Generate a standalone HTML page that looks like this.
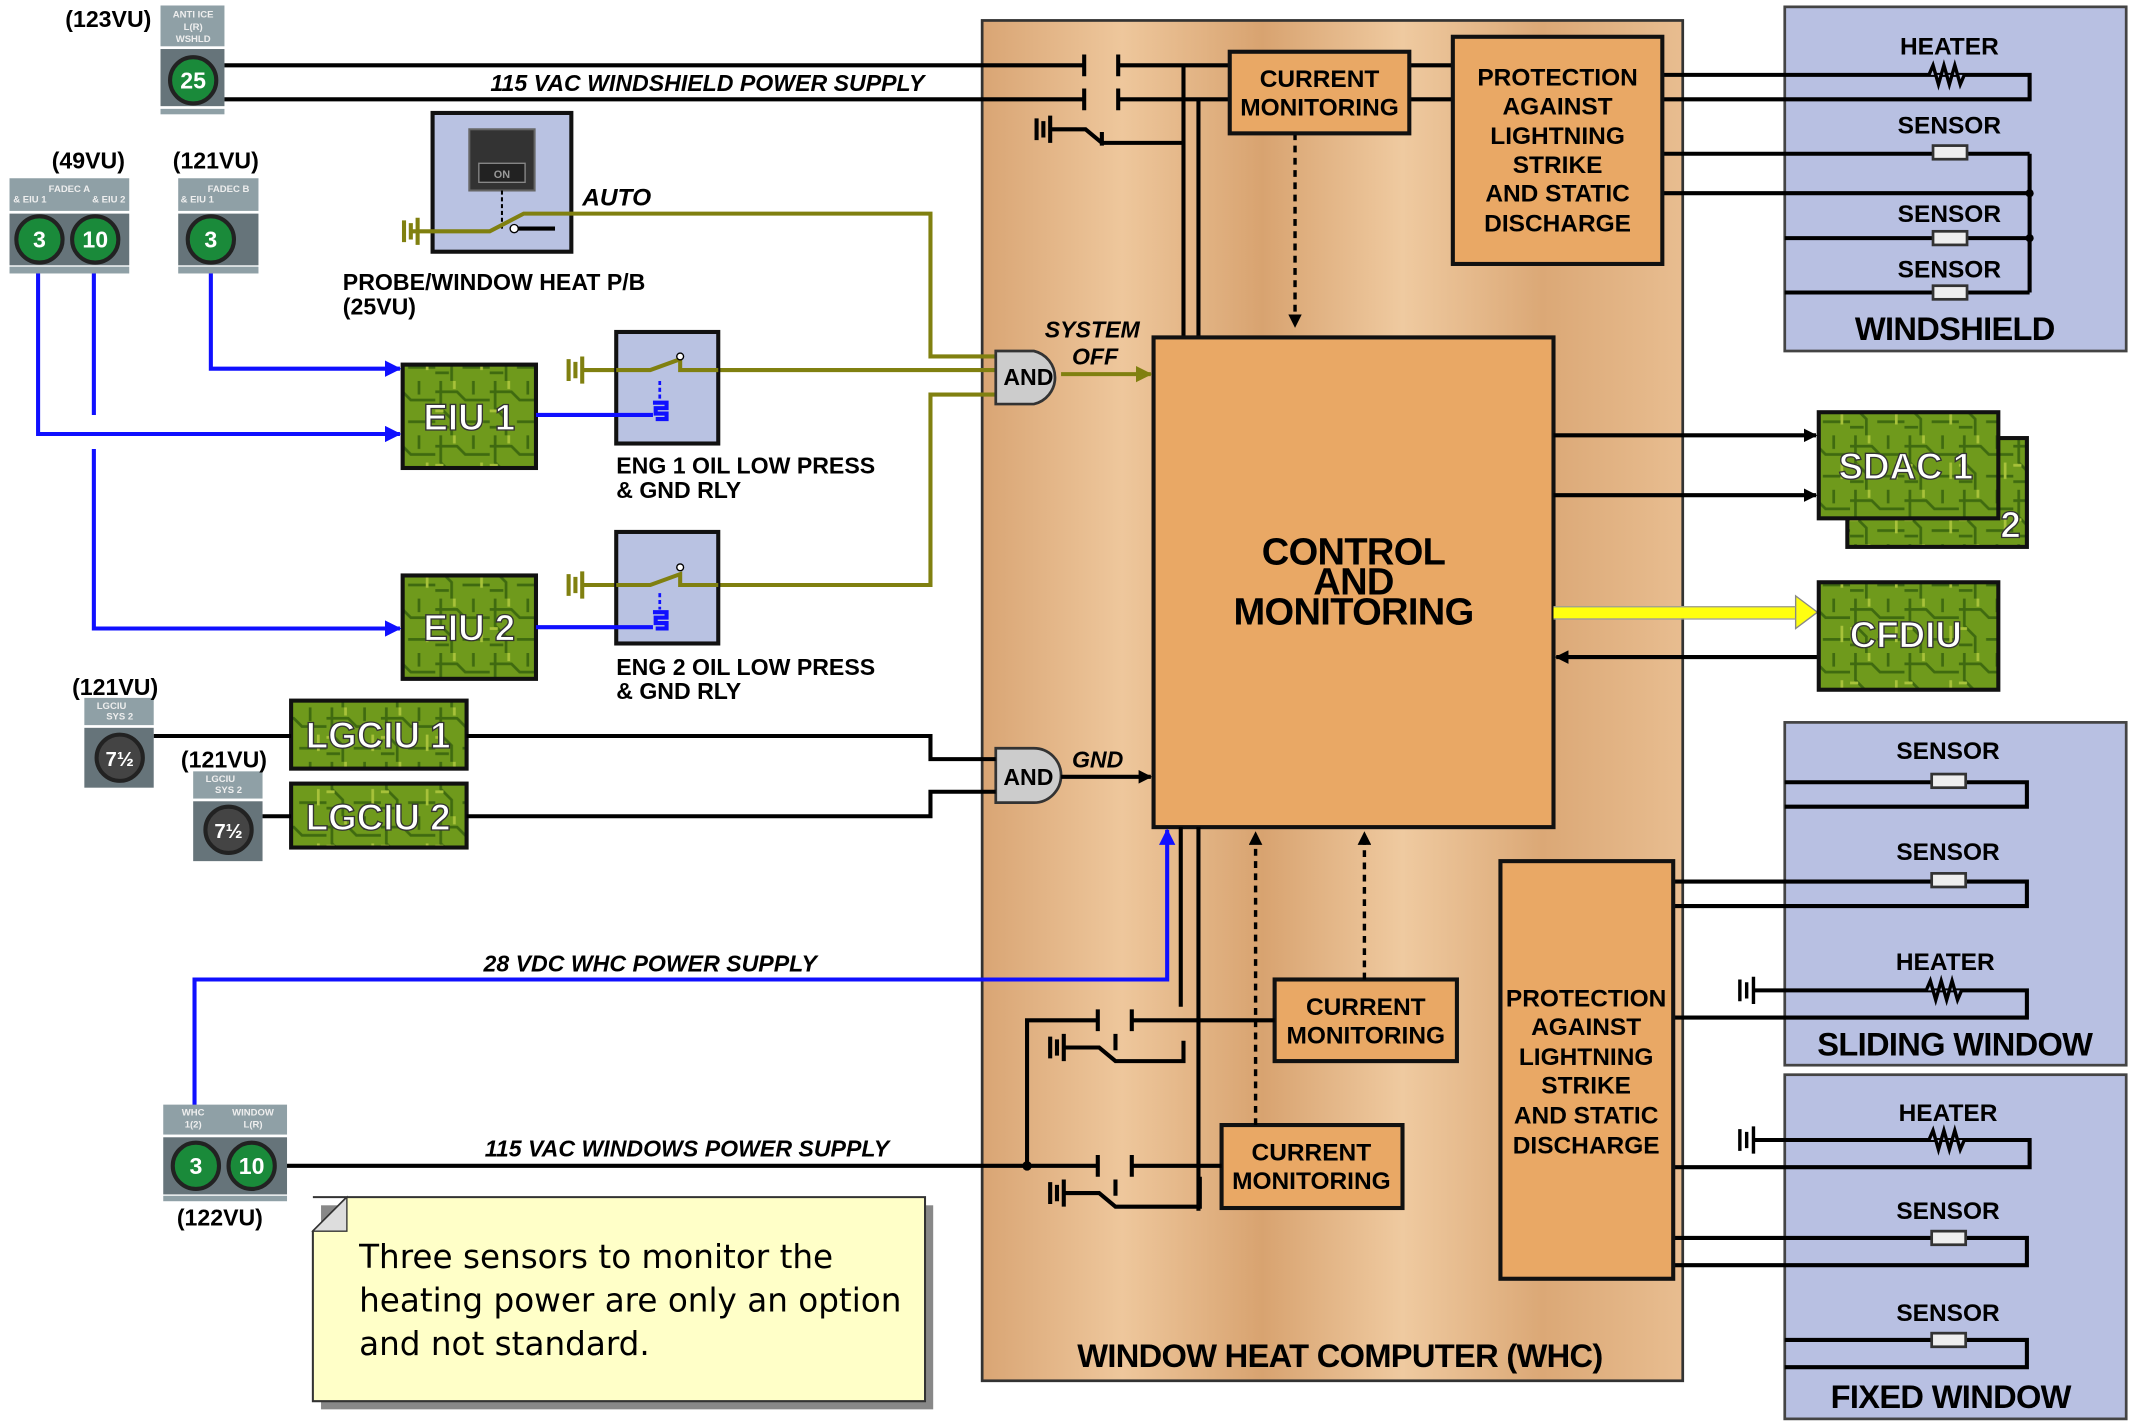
<!DOCTYPE html>
<html><head><meta charset="utf-8"><style>
html,body{margin:0;padding:0;background:#fff}
svg{display:block}
text{font-family:"Liberation Sans",sans-serif;font-weight:bold}
</style></head><body>
<svg width="2133" height="1423" viewBox="0 0 1568 1046" xmlns="http://www.w3.org/2000/svg">
<defs>
<pattern id="pcb" width="40" height="40" patternUnits="userSpaceOnUse">
<rect width="40" height="40" fill="#6f9a1c"/>
<path d="M0 8h16l6 6h18M4 0v20l8 8v12M28 0v10M20 30h20M0 34h10" stroke="#3f6a10" stroke-width="2" fill="none"/>
<path d="M14 0v6M34 20v12M0 22h6" stroke="#a8c23a" stroke-width="2" fill="none"/>
</pattern>
<linearGradient id="wood" x1="0" x2="1" y1="0" y2="0">
<stop offset="0" stop-color="#d9a574"/><stop offset="0.2" stop-color="#eec79c"/><stop offset="0.4" stop-color="#d8a370"/><stop offset="0.6" stop-color="#efcaa0"/><stop offset="0.8" stop-color="#dba876"/><stop offset="1" stop-color="#e8bd90"/>
</linearGradient>
<marker id="ab" markerWidth="10" markerHeight="10" refX="9" refY="5" orient="auto" markerUnits="userSpaceOnUse"><path d="M0 0L10 5L0 10z" fill="#000"/></marker>
<marker id="abl" markerWidth="12" markerHeight="12" refX="11" refY="6" orient="auto" markerUnits="userSpaceOnUse"><path d="M0 0L12 6L0 12z" fill="#1010ff"/></marker>
<marker id="aol" markerWidth="12" markerHeight="12" refX="11" refY="6" orient="auto" markerUnits="userSpaceOnUse"><path d="M0 0L12 6L0 12z" fill="#808010"/></marker>
</defs>

<rect x="722" y="15" width="515" height="1000" fill="url(#wood)" stroke="#333" stroke-width="2"/>
<text x="985" y="1005" font-size="24" text-anchor="middle" letter-spacing="-0.5">WINDOW HEAT COMPUTER (WHC)</text>

<g fill="#b8c0e2" stroke="#444" stroke-width="2">
<rect x="1312" y="5" width="251" height="253"/>
<rect x="1312" y="531" width="251" height="252"/>
<rect x="1312" y="790" width="251" height="253"/>
</g>
<g font-size="24" text-anchor="middle" letter-spacing="-0.5">
<text x="1437" y="250">WINDSHIELD</text>
<text x="1437" y="776">SLIDING WINDOW</text>
<text x="1434" y="1035">FIXED WINDOW</text>
</g>
<g font-size="18" text-anchor="middle">
<text x="1433" y="40">HEATER</text><text x="1433" y="98">SENSOR</text><text x="1433" y="163">SENSOR</text><text x="1433" y="204">SENSOR</text>
<text x="1432" y="558">SENSOR</text><text x="1432" y="632">SENSOR</text><text x="1430" y="713">HEATER</text>
<text x="1432" y="824">HEATER</text><text x="1432" y="896">SENSOR</text><text x="1432" y="971">SENSOR</text>
</g>

<g stroke="#000" stroke-width="3" fill="none">
<path d="M1222 55H1492V73H1222"/>
<path d="M1222 113H1492M1222 142H1492M1312 175H1492M1312 215H1492M1492 113V215"/>
<path d="M1312 575H1490V593H1312M1230 648H1490V666H1230"/>
<path d="M1290 728H1490V748H1230"/>
<path d="M1290 838H1492V858H1230M1230 910H1490V930H1230M1312 985H1490V1005H1312"/>
</g>
<g fill="#eee" stroke="#333" stroke-width="2">
<rect x="1421" y="107" width="25" height="10"/><rect x="1421" y="170" width="25" height="10"/><rect x="1421" y="210" width="25" height="10"/>
<rect x="1420" y="569" width="25" height="10"/><rect x="1420" y="642" width="25" height="10"/>
<rect x="1420" y="905" width="25" height="10"/><rect x="1420" y="980" width="25" height="10"/>
</g>
<g stroke="#000" stroke-width="2.5" fill="none">
<path d="M1418 55l3-7 4 14 4-14 4 14 4-14 4 14 3-7" fill="#b8c0e2"/>
<path d="M1416 728l3-7 4 14 4-14 4 14 4-14 4 14 3-7" fill="#b8c0e2"/>
<path d="M1418 838l3-7 4 14 4-14 4 14 4-14 4 14 3-7" fill="#b8c0e2"/>
<path d="M1279 720v16M1284 722v12M1289 718v20"/>
<path d="M1279 830v16M1284 832v12M1289 828v20"/>
</g>
<circle cx="1492" cy="142" r="3"/><circle cx="1492" cy="175" r="3"/>

<g stroke="#000" stroke-width="3" fill="none">
<path d="M165 48H797M822 48H904M165 73H797M822 73H904M1036 48H1068M1036 73H1068"/>
<path d="M797 40v16M822 40v16M797 65v16M822 65v16"/>
<path d="M870 48V248M881 73V248"/>
<path d="M773 95h25l12 10h60M810 97v10"/>
<path d="M762 87v16M767 89v12M772 85v20"/>
</g>
<path d="M952 98V240" stroke="#000" stroke-width="2.5" stroke-dasharray="5,4" marker-end="url(#ab)"/>
<text x="520" y="67" font-size="17" font-style="italic" text-anchor="middle">115 VAC  WINDSHIELD  POWER SUPPLY</text>

<g fill="#e9a865" stroke="#111" stroke-width="3">
<rect x="848" y="248" width="294" height="360"/>
<rect x="904" y="38" width="132" height="60"/>
<rect x="1068" y="27" width="154" height="167"/>
<rect x="937" y="720" width="134" height="60"/>
<rect x="898" y="827" width="133" height="61"/>
<rect x="1103" y="633" width="127" height="307"/>
</g>
<g font-size="28" text-anchor="middle" letter-spacing="-0.5"><text x="995" y="415">CONTROL</text><text x="995" y="437">AND</text><text x="995" y="459">MONITORING</text></g>
<g font-size="18" text-anchor="middle">
<text x="970" y="64">CURRENT</text><text x="970" y="85">MONITORING</text>
<text x="1145" y="63">PROTECTION</text><text x="1145" y="84">AGAINST</text><text x="1145" y="106">LIGHTNING</text><text x="1145" y="127">STRIKE</text><text x="1145" y="148">AND STATIC</text><text x="1145" y="170">DISCHARGE</text>
<text x="1004" y="746">CURRENT</text><text x="1004" y="767">MONITORING</text>
<text x="964" y="853">CURRENT</text><text x="964" y="874">MONITORING</text>
<text x="1166" y="740">PROTECTION</text><text x="1166" y="761">AGAINST</text><text x="1166" y="783">LIGHTNING</text><text x="1166" y="804">STRIKE</text><text x="1166" y="826">AND STATIC</text><text x="1166" y="848">DISCHARGE</text>
</g>

<g stroke="#000" stroke-width="3" fill="none">
<path d="M1142 320H1335" marker-end="url(#ab)"/>
<path d="M1142 364H1335" marker-end="url(#ab)"/>
<path d="M1337 483H1144" marker-end="url(#ab)"/>
</g>
<path d="M1142 450H1322" stroke="#ffff10" stroke-width="9"/>
<path d="M1320 438L1336 450L1320 462z" fill="#ffff10" stroke="#888" stroke-width="1"/>
<path d="M1142 446H1320M1142 455H1320" stroke="#999" stroke-width="1"/>

<g stroke="#111" stroke-width="3" fill="url(#pcb)">
<rect x="1358" y="322" width="132" height="80"/>
<rect x="1337" y="303" width="132" height="78"/>
<rect x="1337" y="428" width="132" height="79"/>
<rect x="296" y="268" width="98" height="76"/>
<rect x="296" y="423" width="98" height="76"/>
<rect x="214" y="515" width="129" height="50"/>
<rect x="214" y="576" width="129" height="47"/>
</g>
<g fill="#fff" stroke="#333" stroke-width="1" font-size="27">
<text x="1401" y="352" text-anchor="middle">SDAC 1</text>
<text x="1478" y="395" text-anchor="middle">2</text>
<text x="1401" y="476" text-anchor="middle">CFDIU</text>
<text x="345" y="316" text-anchor="middle">EIU 1</text>
<text x="345" y="471" text-anchor="middle">EIU 2</text>
<text x="278" y="550" text-anchor="middle">LGCIU 1</text>
<text x="278" y="610" text-anchor="middle">LGCIU 2</text>
</g>

<rect x="318" y="83" width="102" height="102" fill="#b9c2e2" stroke="#111" stroke-width="3"/>
<rect x="345" y="95" width="48" height="45" fill="#333" stroke="#666" stroke-width="1.5"/>
<rect x="352" y="120" width="34" height="14" fill="#222" stroke="#888" stroke-width="1"/>
<text x="369" y="131" font-size="8" fill="#999" font-weight="normal" text-anchor="middle">ON</text>
<path d="M369 140v28" stroke="#000" stroke-width="1.5" stroke-dasharray="3,2"/>
<g stroke="#808010" stroke-width="3" fill="none">
<path d="M302 170H360L385 157H684V262H732"/>
<path d="M297 162v16M302 164v12M307 160v20"/>
<path d="M428 272H478l22-8v8H732"/>
<path d="M418 264v16M423 266v12M428 262v20"/>
<path d="M428 430H478l22-8v8H684V290H732"/>
<path d="M418 422v16M423 424v12M428 420v20"/>
<path d="M780 275H846" marker-end="url(#aol)"/>
</g>
<path d="M380 168h28" stroke="#000" stroke-width="3"/>
<circle cx="378" cy="168" r="3" fill="#fff" stroke="#000"/>
<text x="428" y="151" font-size="18" font-style="italic">AUTO</text>
<text x="252" y="213" font-size="17">PROBE/WINDOW  HEAT P/B</text>
<text x="252" y="231" font-size="17">(25VU)</text>

<g fill="#b9c2e2" stroke="#111" stroke-width="3">
<rect x="453" y="244" width="75" height="82"/>
<rect x="453" y="391" width="75" height="82"/>
</g>
<g stroke="#808010" stroke-width="3" fill="none"><path d="M453 272H478l22-8v8H528"/><path d="M453 430H478l22-8v8H528"/></g>
<circle cx="500" cy="262" r="2.5" fill="#fff" stroke="#000"/><circle cx="500" cy="417" r="2.5" fill="#fff" stroke="#000"/>
<g stroke="#1010ff" stroke-width="3" fill="none">
<path d="M485 280v14M485 436v12" stroke-dasharray="3,2" stroke-width="2"/>
<path d="M480 296h10v4h-8v4h8v4h-8"/><path d="M480 450h10v4h-8v4h8v4h-8"/>
</g>
<g font-size="17"><text x="453" y="348">ENG 1 OIL LOW PRESS</text><text x="453" y="366">&amp; GND RLY</text>
<text x="453" y="496">ENG 2 OIL LOW PRESS</text><text x="453" y="514">&amp; GND RLY</text></g>

<g fill="#ccc" stroke="#333" stroke-width="2">
<path d="M732 258H760A20 20 0 0 1 760 297H732z"/>
<path d="M732 550H760A20 20 0 0 1 760 590H732z"/>
</g>
<text x="756" y="283" font-size="17" font-weight="normal" text-anchor="middle">AND</text>
<text x="756" y="577" font-size="17" font-weight="normal" text-anchor="middle">AND</text>
<text x="768" y="248" font-size="17" font-style="italic">SYSTEM</text>
<text x="788" y="268" font-size="17" font-style="italic">OFF</text>
<text x="788" y="564" font-size="17" font-style="italic">GND</text>
<g stroke="#000" stroke-width="3" fill="none">
<path d="M343 541H684V558H732M343 600H684V582H732"/>
<path d="M780 571H846" marker-end="url(#ab)"/>
<path d="M113 541H214M193 600H214"/>
</g>

<g stroke="#1010ff" stroke-width="3" fill="none">
<path d="M155 200V271H294" marker-end="url(#abl)"/>
<path d="M28 200V319H294" marker-end="url(#abl)"/>
<path d="M69 200V305M69 330V462H294" marker-end="url(#abl)"/>
<path d="M394 305H480M394 461H480"/>
<path d="M143 815V720H858V610" marker-end="url(#abl)"/>
</g>
<text x="478" y="714" font-size="17" font-style="italic" text-anchor="middle">28 VDC WHC POWER SUPPLY</text>

<g stroke="#000" stroke-width="3" fill="none">
<path d="M868 608V740M881 608V890"/>
<path d="M210 857H807M832 857H898M755 857V750H807M832 750H937"/>
<path d="M807 742v16M832 742v16M807 849v16M832 849v16"/>
<path d="M783 770h25l12 10h50V765M783 877h25l12 10h62V865"/>
<path d="M772 762v16M777 764v12M782 760v20M772 869v16M777 871v12M782 867v20"/>
<path d="M820 760v12M820 867v12"/>
</g>
<circle cx="755" cy="857" r="3.5"/>
<path d="M923 827V612" stroke="#000" stroke-width="2.5" stroke-dasharray="5,4" marker-end="url(#ab)"/>
<path d="M1003 720V612" stroke="#000" stroke-width="2.5" stroke-dasharray="5,4" marker-end="url(#ab)"/>
<text x="505" y="850" font-size="17" font-style="italic" text-anchor="middle">115 VAC WINDOWS POWER SUPPLY</text>

<g fill="#66747a">
<rect x="118" y="4" width="47" height="30" fill="#8fa0a6"/><rect x="118" y="36" width="47" height="42"/><rect x="118" y="80" width="47" height="4" fill="#8fa0a6"/>
<rect x="7" y="131" width="88" height="24" fill="#8fa0a6"/><rect x="7" y="157" width="88" height="38"/><rect x="7" y="196" width="88" height="5" fill="#8fa0a6"/>
<rect x="131" y="131" width="59" height="24" fill="#8fa0a6"/><rect x="131" y="157" width="59" height="38"/><rect x="131" y="196" width="59" height="5" fill="#8fa0a6"/>
<rect x="62" y="513" width="51" height="20" fill="#8fa0a6"/><rect x="62" y="535" width="51" height="44"/>
<rect x="142" y="567" width="51" height="20" fill="#8fa0a6"/><rect x="142" y="589" width="51" height="44"/>
<rect x="120" y="812" width="91" height="22" fill="#8fa0a6"/><rect x="120" y="836" width="91" height="42"/><rect x="120" y="879" width="91" height="4" fill="#8fa0a6"/>
</g>
<g fill="#1a8a3a" stroke="#222" stroke-width="3">
<circle cx="142" cy="59" r="17"/><circle cx="29" cy="176" r="17"/><circle cx="70" cy="176" r="17"/><circle cx="155" cy="176" r="17"/>
<circle cx="144" cy="857" r="17"/><circle cx="185" cy="857" r="17"/>
</g>
<g fill="#444" stroke="#222" stroke-width="3"><circle cx="88" cy="557" r="17"/><circle cx="168" cy="610" r="17"/></g>
<g fill="#fff" font-size="17" text-anchor="middle">
<text x="142" y="65">25</text><text x="29" y="182">3</text><text x="70" y="182">10</text><text x="155" y="182">3</text>
<text x="144" y="863">3</text><text x="185" y="863">10</text>
<text x="88" y="563" font-size="15">7½</text><text x="168" y="616" font-size="15">7½</text>
</g>
<g fill="#eee" font-size="7" font-weight="normal" text-anchor="middle">
<text x="142" y="13">ANTI ICE</text><text x="142" y="22">L(R)</text><text x="142" y="31">WSHLD</text>
<text x="51" y="141">FADEC A</text><text x="22" y="149">&amp; EIU 1</text><text x="80" y="149">&amp; EIU 2</text>
<text x="168" y="141">FADEC B</text><text x="145" y="149">&amp; EIU 1</text>
<text x="82" y="521">LGCIU</text><text x="88" y="529">SYS 2</text>
<text x="162" y="575">LGCIU</text><text x="168" y="583">SYS 2</text>
<text x="142" y="820">WHC</text><text x="142" y="829">1(2)</text><text x="186" y="820">WINDOW</text><text x="186" y="829">L(R)</text>
</g>
<g font-size="17">
<text x="48" y="20">(123VU)</text><text x="38" y="124">(49VU)</text><text x="127" y="124">(121VU)</text>
<text x="53" y="511">(121VU)</text><text x="133" y="564">(121VU)</text><text x="130" y="901">(122VU)</text>
</g>

<rect x="236" y="886" width="450" height="150" fill="#888"/>
<path d="M230 880H680V1030H230V905L255 880" fill="#ffffc8" stroke="#333" stroke-width="1.5"/>
<path d="M230 905L255 880V905z" fill="#ddd" stroke="#333" stroke-width="1"/>
<g font-size="24" fill="#000">
<text x="264" y="932" style="font-family:'DejaVu Sans',sans-serif;font-weight:normal">Three sensors to monitor the</text>
<text x="264" y="964" style="font-family:'DejaVu Sans',sans-serif;font-weight:normal">heating power are only an option</text>
<text x="264" y="996" style="font-family:'DejaVu Sans',sans-serif;font-weight:normal">and not standard.</text>
</g>
</svg>
</body></html>
